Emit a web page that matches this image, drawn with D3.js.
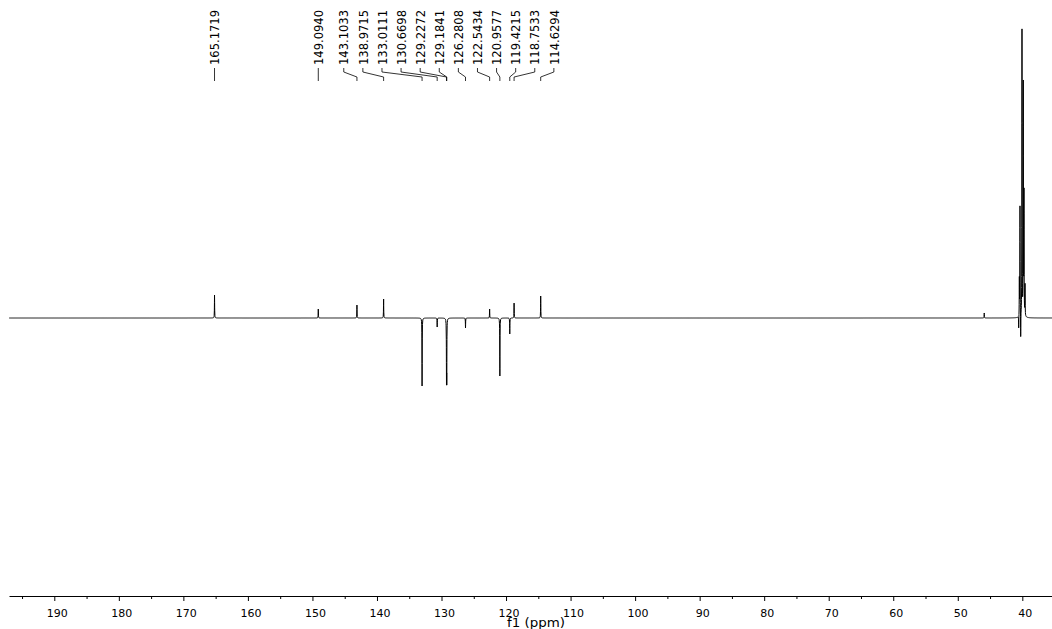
<!DOCTYPE html>
<html>
<head>
<meta charset="utf-8">
<script src="https://cdn.jsdelivr.net/npm/d3@7"></script>
<style>
  html, body { margin: 0; padding: 0; background: #fff; }
  svg { display: block; }
</style>
</head>
<body>
<svg id="chart" width="1052" height="629"></svg>
<script>
// ---------------- data ----------------
const peakPpm = [165.1719, 149.0940, 143.1033, 138.9715, 133.0111, 130.6698, 129.2272, 129.1841, 126.2808, 122.5434, 120.9577, 119.4215, 118.7533, 114.6294];
const peakIntensity = [23, 9, 13, 19, -68, -9, -57, -57, -10, 9, -58, -16, 15, 22];
const peakLabels = ["165.1719", "149.0940", "143.1033", "138.9715", "133.0111", "130.6698", "129.2272", "129.1841", "126.2808", "122.5434", "120.9577", "119.4215", "118.7533", "114.6294"];
// unlabelled lines (solvent multiplet and a small impurity)
const extraPpm = [45.90, 40.56, 40.46, 40.36, 40.25, 40.05, 39.85, 39.74, 39.58];
const extraIntensity = [5, -13, 37, 110, -26, 286, 231, 121, 31];
const majorTicks = [190, 180, 170, 160, 150, 140, 130, 120, 110, 100, 90, 80, 70, 60, 50, 40];
const minorTicks = [195, 185, 175, 165, 155, 145, 135, 125, 115, 105, 95, 85, 75, 65, 55, 45];
const axisDomain = [197.02, 35.40];
const axisTitle = "f1 (ppm)";

// ---------------- setup ----------------
const W = 1052, H = 629;
const svg = d3.select("#chart");
svg.append("rect").attr("width", W).attr("height", H).attr("fill", "#fff");

const x = d3.scaleLinear().domain(axisDomain).range([9, 1052]);
const y = d3.scaleLinear().domain([-100, 300]).range([418, 18]);

// ---------------- spectrum ----------------
const lines = peakPpm.map((p, i) => ({ppm: p, h: peakIntensity[i]}))
  .concat(extraPpm.map((p, i) => ({ppm: p, h: extraIntensity[i]})));
const hw = 0.02; // half width (ppm)

const samples = [];
const step = 0.05;
for (let p = axisDomain[1]; p <= axisDomain[0]; p += step) samples.push(p);
lines.forEach(l => {
  [-6, -3, -1.5, -0.7, 0, 0.7, 1.5, 3, 6].forEach(k => samples.push(l.ppm + k * hw));
});
samples.sort((a, b) => b - a);

function intensity(p) {
  let s = 0;
  for (const l of lines) {
    const d = (p - l.ppm) / hw;
    s += l.h / (1 + d * d);
  }
  return s;
}
const spec = samples.filter(p => p <= axisDomain[0] && p >= axisDomain[1])
  .map(p => [p, intensity(p)]);

svg.append("path")
  .datum(spec)
  .attr("fill", "none")
  .attr("stroke", "#000")
  .attr("stroke-width", 1)
  .attr("d", d3.line().x(d => x(d[0])).y(d => y(d[1])));

// ---------------- axis ----------------
const axisY = 596;
const gMajor = svg.append("g").attr("transform", `translate(0,${axisY})`)
  .call(d3.axisBottom(x).tickValues(majorTicks).tickSize(5).tickSizeOuter(0).tickFormat(d3.format("d")));
gMajor.selectAll("text")
  .attr("y", 20.5).attr("dy", 0).attr("dx", 2.5)
  .attr("fill", "#000")
  .style("font-family", "'DejaVu Sans', Verdana, sans-serif")
  .style("font-size", "11px");
gMajor.selectAll("line, path").attr("stroke", "#000");

const gMinor = svg.append("g").attr("transform", `translate(0,${axisY})`)
  .call(d3.axisBottom(x).tickValues(minorTicks).tickSize(3).tickSizeOuter(0).tickFormat(""));
gMinor.select(".domain").remove();
gMinor.selectAll("line").attr("stroke", "#000");

svg.append("text")
  .attr("x", 536).attr("y", 626.5)
  .attr("text-anchor", "middle")
  .attr("fill", "#000")
  .style("font-family", "'DejaVu Sans', Verdana, sans-serif")
  .style("font-size", "12px")
  .attr("textLength", 58)
  .attr("lengthAdjust", "spacingAndGlyphs")
  .text(axisTitle);

// ---------------- peak labels ----------------
const gap = 19.1;
let items = peakPpm.map((p, i) => ({px: x(p), label: peakLabels[i]})).sort((a, b) => a.px - b.px);
let clusters = items.map(it => ({members: [it]}));
function layoutCluster(c) {
  const xs = c.members.map(m => m.px);
  const center = (d3.min(xs) + d3.max(xs)) / 2;
  const n = c.members.length;
  c.start = center - (n - 1) / 2 * gap;
  c.end = center + (n - 1) / 2 * gap;
  c.members.forEach((m, i) => m.lx = c.start + i * gap);
}
clusters.forEach(layoutCluster);
let merged = true;
while (merged) {
  merged = false;
  for (let i = 0; i < clusters.length - 1; i++) {
    if (clusters[i + 1].start - clusters[i].end < gap) {
      clusters[i].members = clusters[i].members.concat(clusters[i + 1].members);
      clusters.splice(i + 1, 1);
      layoutCluster(clusters[i]);
      merged = true;
      break;
    }
  }
}

const gLab = svg.append("g");
items.forEach(it => {
  gLab.append("path")
    .attr("fill", "none")
    .attr("stroke", "#000")
    .attr("stroke-width", 0.8)
    .attr("d", `M${it.lx},68 L${it.lx},72 L${it.px},77 L${it.px},81`);
  gLab.append("text")
    .attr("transform", `translate(${it.lx},65) rotate(-90)`)
    .attr("dy", "0.36em")
    .attr("fill", "#000")
    .style("font-family", "'DejaVu Sans Condensed', 'DejaVu Sans', sans-serif")
    .style("font-stretch", "condensed")
    .style("font-size", "13px")
    .attr("textLength", 55)
    .attr("lengthAdjust", "spacingAndGlyphs")
    .text(it.label);
});
</script>
</body>
</html>
